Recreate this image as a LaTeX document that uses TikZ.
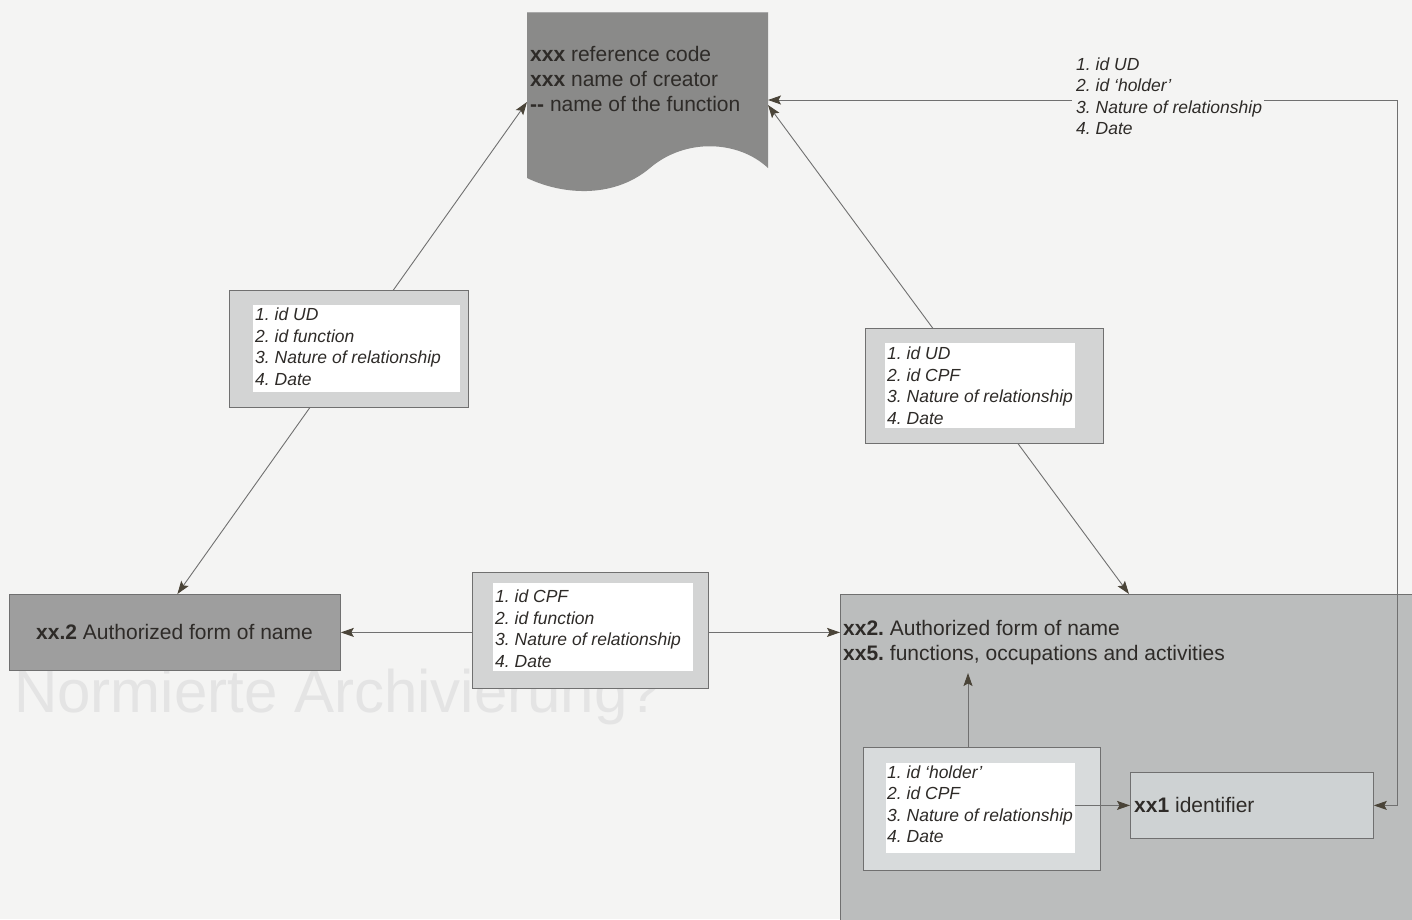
\documentclass[tikz,border=0pt]{standalone}
\usepackage{fontspec}
\setmainfont{Liberation Sans}
\usetikzlibrary{arrows.meta,calc}
\frenchspacing
\definecolor{pagebg}{HTML}{F4F4F3}
\definecolor{faint}{HTML}{E4E4E4}
\definecolor{docfill}{HTML}{8A8A89}
\definecolor{namefill}{HTML}{9E9E9E}
\definecolor{bigfill}{HTML}{BBBDBD}
\definecolor{idfill}{HTML}{CED2D3}
\definecolor{labfill}{HTML}{D3D4D4}
\definecolor{edge}{HTML}{707070}
\definecolor{ink}{HTML}{2E2B28}
\definecolor{tipc}{HTML}{4A4438}
\tikzset{
  box/.style={draw=edge, line width=0.8pt, inner sep=0pt, anchor=north west},
  labouter/.style={box, fill=labfill},
  labinner/.style={fill=white, inner sep=0pt, anchor=north west},
  labtext/.style={anchor=west, align=left, inner sep=0pt, text=ink,
    font=\itshape\fontsize{17.5}{21.5}\selectfont},
  maintext/.style={inner sep=0pt, align=left, text=ink,
    font=\fontsize{21}{25}\selectfont},
  tip/.tip={Stealth[length=13pt,width=9pt,inset=2.5pt,color=tipc]},
  conn/.style={draw=edge, line width=0.9pt},
}
\begin{document}
\begin{tikzpicture}[x=1pt,y=-1pt]
\useasboundingbox (0,0) rectangle (1412,919);
\clip (0,0) rectangle (1412,919);
\fill[pagebg] (0,0) rectangle (1412,919);

% faint show-through heading
\node[anchor=base west, inner sep=0pt, text=faint, font=\fontsize{60}{60}\selectfont] (heading) at (14,712) {Normierte Archivierung?};

% large entity box (extends beyond the page)
\node[box, fill=bigfill, minimum width=600pt, minimum height=360pt] (big) at (840,594) {};
\node[maintext, anchor=west] (bigtext) at (843,643) {\textbf{xx2.} Authorized form of name\\\textbf{xx5.} functions, occupations and activities};

% document shape
\node[inner sep=0pt, minimum width=241pt, minimum height=156pt, anchor=north west] (doc) at (527,12) {};
\fill[docfill] (527,12) -- (768,12) -- (768,168)
  .. controls (738,140) and (685,138) .. (650,168)
  .. controls (612,200) and (560,194) .. (527,178) -- cycle;
\draw[edge!60, line width=0.5pt] (527,12) -- (768,12);
\node[maintext, anchor=west] (doctext) at (530,79) {\textbf{xxx} reference code\\\textbf{xxx} name of creator\\\textbf{-{}-} name of the function};
\coordinate (docL) at (527,102);
\coordinate (docR1) at (768,100);
\coordinate (docR2) at (768,105);

% authorized name box
\node[box, fill=namefill, minimum width=331pt, minimum height=76pt] (name) at (9,594) {};
\node[maintext, anchor=center] (nametext) at (174.5,632) {\textbf{xx.2} Authorized form of name};

% identifier box
\node[box, fill=idfill, minimum width=243pt, minimum height=66pt] (xx1) at (1130,772) {};
\node[maintext, anchor=west] (xx1text) at (1134,805) {\textbf{xx1} identifier};

% connectors
\draw[conn, tip-tip] ($(name.north)+(2.5,0)$) -- (docL);
\draw[conn, tip-tip] (docR2) -- ($(big.north west)+(289,0)$);
\draw[conn, tip-tip] (xx1.east) -- ++(24,0) |- (docR1);
\draw[conn, tip-tip] (name.east) -- (name.east -| big.west);
\coordinate (xx5tip) at (968,673);

% relationship label boxes
\node[labouter, minimum width=239pt, minimum height=117pt] (L1) at (229,290) {};
\node[labinner, minimum width=207pt, minimum height=87pt] (L1in) at (253,305) {};
\node[labtext] (L1t) at (255,346.5) {1. id UD\\2. id function\\3. Nature of relationship\\4. Date};

\node[labouter, minimum width=238pt, minimum height=115pt] (L2) at (865,328) {};
\node[labinner, minimum width=190pt, minimum height=85pt] (L2in) at (885,343) {};
\node[labtext] (L2t) at (887,385.5) {1. id UD\\2. id CPF\\3. Nature of relationship\\4. Date};

\node[labouter, minimum width=236pt, minimum height=116pt] (L3) at (472,572) {};
\node[labinner, minimum width=200pt, minimum height=88pt] (L3in) at (493,583) {};
\node[labtext] (L3t) at (495,628.5) {1. id CPF\\2. id function\\3. Nature of relationship\\4. Date};

\node[labouter, fill=idfill!80!white, minimum width=237pt, minimum height=123pt] (L4) at (863,747) {};
\node[labinner, minimum width=189pt, minimum height=90pt] (L4in) at (886,763) {};
\node[labtext] (L4t) at (887,804) {1. id `holder'\\2. id CPF\\3. Nature of relationship\\4. Date};

\draw[conn, -tip] ($(L4.north west)+(105,0)$) -- (xx5tip);
\draw[conn, -tip] (L4in.east |- xx1.west) -- (xx1.west);

% label on the top-right connector
\node[fill=pagebg, inner sep=0pt, minimum width=192pt, minimum height=88pt, anchor=north west] (L5) at (1072,52) {};
\node[labtext] (L5t) at (1076,96) {1. id UD\\2. id `holder'\\3. Nature of relationship\\4. Date};
\end{tikzpicture}
\end{document}
